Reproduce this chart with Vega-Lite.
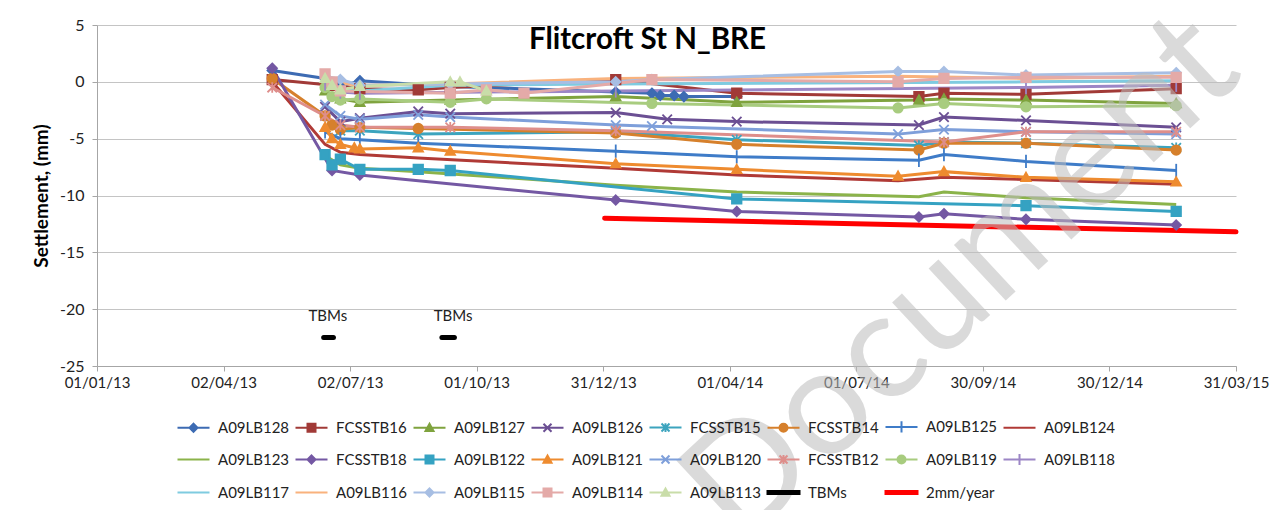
{
  "$schema": "https://vega.github.io/schema/vega-lite/v6.json",
  "width": 1139,
  "height": 341,
  "autosize": "none",
  "padding": {"left": 97, "top": 25, "right": 52, "bottom": 144},
  "background": "white",
  "title": {"text": "Flitcroft St N_BRE", "font": "Lato", "fontSize": 29.5, "fontWeight": "bold", "color": "#000000", "anchor": "middle", "offset": -38, "dx": -19, "dy": 29},
  "datasets": {
    "main": [
      {"s": "A09LB128", "d": "2013-05-07", "v": 1.0},
      {"s": "A09LB128", "d": "2013-06-14", "v": 0.3},
      {"s": "A09LB128", "d": "2013-06-19", "v": -0.2},
      {"s": "A09LB128", "d": "2013-06-25", "v": -0.4},
      {"s": "A09LB128", "d": "2013-07-09", "v": 0.1},
      {"s": "A09LB128", "d": "2013-09-12", "v": -0.4},
      {"s": "A09LB128", "d": "2014-01-09", "v": -0.9},
      {"s": "A09LB128", "d": "2014-02-04", "v": -1.0},
      {"s": "A09LB128", "d": "2014-02-10", "v": -1.2},
      {"s": "A09LB128", "d": "2014-02-20", "v": -1.2},
      {"s": "A09LB128", "d": "2014-02-27", "v": -1.3},
      {"s": "A09LB128", "d": "2014-04-06", "v": -1.3},
      {"s": "FCSSTB16", "d": "2013-05-07", "v": 0.2},
      {"s": "FCSSTB16", "d": "2013-06-19", "v": -0.3},
      {"s": "FCSSTB16", "d": "2013-07-09", "v": -0.6},
      {"s": "FCSSTB16", "d": "2013-08-20", "v": -0.7},
      {"s": "FCSSTB16", "d": "2013-09-12", "v": -0.5},
      {"s": "FCSSTB16", "d": "2014-01-09", "v": 0.2},
      {"s": "FCSSTB16", "d": "2014-04-06", "v": -1.0},
      {"s": "FCSSTB16", "d": "2014-08-15", "v": -1.3},
      {"s": "FCSSTB16", "d": "2014-09-02", "v": -1.0},
      {"s": "FCSSTB16", "d": "2014-10-31", "v": -1.1},
      {"s": "FCSSTB16", "d": "2015-02-16", "v": -0.6},
      {"s": "A09LB127", "d": "2013-06-14", "v": -0.8},
      {"s": "A09LB127", "d": "2013-06-25", "v": -1.5},
      {"s": "A09LB127", "d": "2013-07-09", "v": -1.8},
      {"s": "A09LB127", "d": "2013-09-12", "v": -1.6},
      {"s": "A09LB127", "d": "2014-01-09", "v": -1.3},
      {"s": "A09LB127", "d": "2014-04-06", "v": -1.8},
      {"s": "A09LB127", "d": "2014-08-15", "v": -1.6},
      {"s": "A09LB127", "d": "2014-09-02", "v": -1.5},
      {"s": "A09LB127", "d": "2014-10-31", "v": -1.6},
      {"s": "A09LB127", "d": "2015-02-16", "v": -1.9},
      {"s": "A09LB126", "d": "2013-06-14", "v": -2.2},
      {"s": "A09LB126", "d": "2013-06-25", "v": -3.5},
      {"s": "A09LB126", "d": "2013-07-09", "v": -3.2},
      {"s": "A09LB126", "d": "2013-08-20", "v": -2.6},
      {"s": "A09LB126", "d": "2013-09-12", "v": -2.8},
      {"s": "A09LB126", "d": "2014-01-09", "v": -2.7},
      {"s": "A09LB126", "d": "2014-02-15", "v": -3.3},
      {"s": "A09LB126", "d": "2014-04-06", "v": -3.5},
      {"s": "A09LB126", "d": "2014-08-15", "v": -3.8},
      {"s": "A09LB126", "d": "2014-09-02", "v": -3.1},
      {"s": "A09LB126", "d": "2014-10-31", "v": -3.4},
      {"s": "A09LB126", "d": "2015-02-16", "v": -4.0},
      {"s": "FCSSTB15", "d": "2013-06-14", "v": -3.0},
      {"s": "FCSSTB15", "d": "2013-06-25", "v": -4.3},
      {"s": "FCSSTB15", "d": "2013-07-09", "v": -4.3},
      {"s": "FCSSTB15", "d": "2013-08-20", "v": -4.6},
      {"s": "FCSSTB15", "d": "2014-01-09", "v": -4.4},
      {"s": "FCSSTB15", "d": "2014-04-06", "v": -5.1},
      {"s": "FCSSTB15", "d": "2014-08-15", "v": -5.6},
      {"s": "FCSSTB15", "d": "2014-09-02", "v": -5.3},
      {"s": "FCSSTB15", "d": "2014-10-31", "v": -5.4},
      {"s": "FCSSTB15", "d": "2015-02-16", "v": -5.8},
      {"s": "FCSSTB14", "d": "2013-05-07", "v": 0.3},
      {"s": "FCSSTB14", "d": "2013-06-14", "v": -3.0},
      {"s": "FCSSTB14", "d": "2013-06-19", "v": -3.8},
      {"s": "FCSSTB14", "d": "2013-06-25", "v": -4.2},
      {"s": "FCSSTB14", "d": "2013-07-09", "v": -4.0},
      {"s": "FCSSTB14", "d": "2013-08-20", "v": -4.1},
      {"s": "FCSSTB14", "d": "2014-01-09", "v": -4.5},
      {"s": "FCSSTB14", "d": "2014-04-06", "v": -5.5},
      {"s": "FCSSTB14", "d": "2014-08-15", "v": -6.0},
      {"s": "FCSSTB14", "d": "2014-09-02", "v": -5.4},
      {"s": "FCSSTB14", "d": "2014-10-31", "v": -5.4},
      {"s": "FCSSTB14", "d": "2015-02-16", "v": -6.0},
      {"s": "A09LB125", "d": "2013-06-14", "v": -4.4},
      {"s": "A09LB125", "d": "2013-06-25", "v": -5.0},
      {"s": "A09LB125", "d": "2013-07-09", "v": -5.1},
      {"s": "A09LB125", "d": "2013-08-20", "v": -5.4},
      {"s": "A09LB125", "d": "2014-01-09", "v": -6.1},
      {"s": "A09LB125", "d": "2014-04-06", "v": -6.6},
      {"s": "A09LB125", "d": "2014-08-15", "v": -6.9},
      {"s": "A09LB125", "d": "2014-09-02", "v": -6.4},
      {"s": "A09LB125", "d": "2014-10-31", "v": -7.0},
      {"s": "A09LB125", "d": "2015-02-16", "v": -7.8},
      {"s": "A09LB124", "d": "2013-05-07", "v": 0.0},
      {"s": "A09LB124", "d": "2013-06-14", "v": -5.5},
      {"s": "A09LB124", "d": "2013-06-25", "v": -6.2},
      {"s": "A09LB124", "d": "2013-07-09", "v": -6.4},
      {"s": "A09LB124", "d": "2013-08-20", "v": -6.7},
      {"s": "A09LB124", "d": "2014-01-09", "v": -7.6},
      {"s": "A09LB124", "d": "2014-04-06", "v": -8.2},
      {"s": "A09LB124", "d": "2014-07-31", "v": -8.7},
      {"s": "A09LB124", "d": "2014-09-02", "v": -8.4},
      {"s": "A09LB124", "d": "2014-10-31", "v": -8.6},
      {"s": "A09LB124", "d": "2015-02-16", "v": -9.0},
      {"s": "A09LB123", "d": "2013-06-14", "v": -6.5},
      {"s": "A09LB123", "d": "2013-06-25", "v": -7.3},
      {"s": "A09LB123", "d": "2013-07-09", "v": -7.6},
      {"s": "A09LB123", "d": "2013-08-20", "v": -7.9},
      {"s": "A09LB123", "d": "2014-01-09", "v": -9.1},
      {"s": "A09LB123", "d": "2014-04-06", "v": -9.7},
      {"s": "A09LB123", "d": "2014-08-15", "v": -10.1},
      {"s": "A09LB123", "d": "2014-09-02", "v": -9.7},
      {"s": "A09LB123", "d": "2014-10-31", "v": -10.2},
      {"s": "A09LB123", "d": "2015-02-16", "v": -10.8},
      {"s": "FCSSTB18", "d": "2013-05-07", "v": 1.2},
      {"s": "FCSSTB18", "d": "2013-06-19", "v": -7.8},
      {"s": "FCSSTB18", "d": "2013-07-09", "v": -8.2},
      {"s": "FCSSTB18", "d": "2014-01-09", "v": -10.4},
      {"s": "FCSSTB18", "d": "2014-04-06", "v": -11.4},
      {"s": "FCSSTB18", "d": "2014-08-15", "v": -11.9},
      {"s": "FCSSTB18", "d": "2014-09-02", "v": -11.6},
      {"s": "FCSSTB18", "d": "2014-10-31", "v": -12.1},
      {"s": "FCSSTB18", "d": "2015-02-16", "v": -12.6},
      {"s": "A09LB122", "d": "2013-06-14", "v": -6.4},
      {"s": "A09LB122", "d": "2013-06-19", "v": -7.3},
      {"s": "A09LB122", "d": "2013-06-25", "v": -6.8},
      {"s": "A09LB122", "d": "2013-07-09", "v": -7.7},
      {"s": "A09LB122", "d": "2013-08-20", "v": -7.7},
      {"s": "A09LB122", "d": "2013-09-12", "v": -7.8},
      {"s": "A09LB122", "d": "2014-04-06", "v": -10.3},
      {"s": "A09LB122", "d": "2014-10-31", "v": -10.9},
      {"s": "A09LB122", "d": "2015-02-16", "v": -11.4},
      {"s": "A09LB121", "d": "2013-06-14", "v": -4.0},
      {"s": "A09LB121", "d": "2013-06-19", "v": -5.0},
      {"s": "A09LB121", "d": "2013-06-25", "v": -5.5},
      {"s": "A09LB121", "d": "2013-07-05", "v": -5.8},
      {"s": "A09LB121", "d": "2013-07-09", "v": -5.9},
      {"s": "A09LB121", "d": "2013-08-20", "v": -5.8},
      {"s": "A09LB121", "d": "2013-09-12", "v": -6.1},
      {"s": "A09LB121", "d": "2014-01-09", "v": -7.2},
      {"s": "A09LB121", "d": "2014-04-06", "v": -7.7},
      {"s": "A09LB121", "d": "2014-07-31", "v": -8.3},
      {"s": "A09LB121", "d": "2014-09-02", "v": -7.9},
      {"s": "A09LB121", "d": "2014-10-31", "v": -8.4},
      {"s": "A09LB121", "d": "2015-02-16", "v": -8.8},
      {"s": "A09LB120", "d": "2013-06-14", "v": -2.0},
      {"s": "A09LB120", "d": "2013-06-25", "v": -3.0},
      {"s": "A09LB120", "d": "2013-07-09", "v": -3.3},
      {"s": "A09LB120", "d": "2013-08-20", "v": -2.9},
      {"s": "A09LB120", "d": "2013-09-12", "v": -3.1},
      {"s": "A09LB120", "d": "2014-01-09", "v": -3.8},
      {"s": "A09LB120", "d": "2014-02-04", "v": -3.9},
      {"s": "A09LB120", "d": "2014-07-31", "v": -4.6},
      {"s": "A09LB120", "d": "2014-09-02", "v": -4.2},
      {"s": "A09LB120", "d": "2014-10-31", "v": -4.4},
      {"s": "A09LB120", "d": "2015-02-16", "v": -4.6},
      {"s": "FCSSTB12", "d": "2013-05-07", "v": -0.5},
      {"s": "FCSSTB12", "d": "2013-06-14", "v": -3.0},
      {"s": "FCSSTB12", "d": "2013-06-25", "v": -3.8},
      {"s": "FCSSTB12", "d": "2013-07-09", "v": -4.0},
      {"s": "FCSSTB12", "d": "2013-09-12", "v": -4.0},
      {"s": "FCSSTB12", "d": "2014-01-09", "v": -4.3},
      {"s": "FCSSTB12", "d": "2014-09-02", "v": -5.3},
      {"s": "FCSSTB12", "d": "2014-10-31", "v": -4.4},
      {"s": "FCSSTB12", "d": "2015-02-16", "v": -4.4},
      {"s": "A09LB119", "d": "2013-06-14", "v": -0.5},
      {"s": "A09LB119", "d": "2013-06-19", "v": -1.3},
      {"s": "A09LB119", "d": "2013-06-25", "v": -1.6},
      {"s": "A09LB119", "d": "2013-07-09", "v": -1.5},
      {"s": "A09LB119", "d": "2013-09-12", "v": -1.8},
      {"s": "A09LB119", "d": "2013-10-08", "v": -1.5},
      {"s": "A09LB119", "d": "2014-02-04", "v": -1.9},
      {"s": "A09LB119", "d": "2014-07-31", "v": -2.3},
      {"s": "A09LB119", "d": "2014-09-02", "v": -1.9},
      {"s": "A09LB119", "d": "2014-10-31", "v": -2.2},
      {"s": "A09LB119", "d": "2015-02-16", "v": -2.1},
      {"s": "A09LB118", "d": "2013-06-14", "v": -0.2},
      {"s": "A09LB118", "d": "2013-06-25", "v": -0.9},
      {"s": "A09LB118", "d": "2013-07-09", "v": -1.0},
      {"s": "A09LB118", "d": "2014-01-09", "v": -0.8},
      {"s": "A09LB118", "d": "2014-10-31", "v": -0.5},
      {"s": "A09LB118", "d": "2015-02-16", "v": -0.3},
      {"s": "A09LB117", "d": "2013-06-14", "v": -0.5},
      {"s": "A09LB117", "d": "2013-07-09", "v": -0.8},
      {"s": "A09LB117", "d": "2013-09-12", "v": -0.3},
      {"s": "A09LB117", "d": "2014-01-09", "v": -0.2},
      {"s": "A09LB117", "d": "2014-10-31", "v": 0.0},
      {"s": "A09LB117", "d": "2015-02-16", "v": 0.1},
      {"s": "A09LB116", "d": "2013-06-14", "v": 0.0},
      {"s": "A09LB116", "d": "2013-07-09", "v": -0.3},
      {"s": "A09LB116", "d": "2013-09-12", "v": -0.2},
      {"s": "A09LB116", "d": "2014-01-09", "v": 0.3},
      {"s": "A09LB116", "d": "2014-07-31", "v": 0.5},
      {"s": "A09LB116", "d": "2014-10-31", "v": 0.3},
      {"s": "A09LB116", "d": "2015-02-16", "v": 0.5},
      {"s": "A09LB115", "d": "2013-06-14", "v": 0.5},
      {"s": "A09LB115", "d": "2013-06-25", "v": 0.2},
      {"s": "A09LB115", "d": "2013-07-09", "v": -0.3},
      {"s": "A09LB115", "d": "2013-09-12", "v": -0.2},
      {"s": "A09LB115", "d": "2014-01-09", "v": 0.0},
      {"s": "A09LB115", "d": "2014-02-04", "v": 0.2},
      {"s": "A09LB115", "d": "2014-07-31", "v": 0.9},
      {"s": "A09LB115", "d": "2014-09-02", "v": 0.9},
      {"s": "A09LB115", "d": "2014-10-31", "v": 0.6},
      {"s": "A09LB115", "d": "2015-02-16", "v": 0.8},
      {"s": "A09LB114", "d": "2013-06-14", "v": 0.7},
      {"s": "A09LB114", "d": "2013-06-19", "v": 0.0},
      {"s": "A09LB114", "d": "2013-06-25", "v": -0.8},
      {"s": "A09LB114", "d": "2013-09-12", "v": -1.0},
      {"s": "A09LB114", "d": "2013-10-08", "v": -0.7},
      {"s": "A09LB114", "d": "2013-11-04", "v": -1.0},
      {"s": "A09LB114", "d": "2014-02-04", "v": 0.2},
      {"s": "A09LB114", "d": "2014-07-31", "v": 0.0},
      {"s": "A09LB114", "d": "2014-09-02", "v": 0.3},
      {"s": "A09LB114", "d": "2014-10-31", "v": 0.4},
      {"s": "A09LB114", "d": "2015-02-16", "v": 0.4},
      {"s": "A09LB113", "d": "2013-06-14", "v": 0.3},
      {"s": "A09LB113", "d": "2013-06-19", "v": -0.3},
      {"s": "A09LB113", "d": "2013-06-25", "v": -0.7},
      {"s": "A09LB113", "d": "2013-07-09", "v": -0.4},
      {"s": "A09LB113", "d": "2013-09-12", "v": 0.0},
      {"s": "A09LB113", "d": "2013-09-19", "v": 0.0},
      {"s": "A09LB113", "d": "2013-10-08", "v": -0.8},
      {"s": "TBMs", "g": 1, "d": "2013-06-13", "v": -22.5},
      {"s": "TBMs", "g": 1, "d": "2013-06-20", "v": -22.5},
      {"s": "TBMs", "g": 2, "d": "2013-09-06", "v": -22.5},
      {"s": "TBMs", "g": 2, "d": "2013-09-15", "v": -22.5},
      {"s": "2mm/year", "d": "2014-01-01", "v": -12.0},
      {"s": "2mm/year", "d": "2015-03-31", "v": -13.2}
    ],
    "labels": [
      {"t": "TBMs", "d": "2013-06-16", "v": -20.6},
      {"t": "TBMs", "d": "2013-09-14", "v": -20.6}
    ],
    "mark": [
      {"t": "Document", "d": "2014-09-15", "v": -17.4}
    ]
  },
  "encoding": {
    "x": {
      "field": "d", "type": "temporal",
      "scale": {"type": "utc", "domain": [{"year": 2013, "month": 1, "date": 1, "utc": true}, {"year": 2015, "month": 3, "date": 31, "utc": true}]},
      "axis": {
        "title": null, "grid": false, "format": "%d/%m/%y",
        "values": [
          {"year": 2013, "month": 1, "date": 1, "utc": true},
          {"year": 2013, "month": 4, "date": 2, "utc": true},
          {"year": 2013, "month": 7, "date": 2, "utc": true},
          {"year": 2013, "month": 10, "date": 1, "utc": true},
          {"year": 2013, "month": 12, "date": 31, "utc": true},
          {"year": 2014, "month": 4, "date": 1, "utc": true},
          {"year": 2014, "month": 7, "date": 1, "utc": true},
          {"year": 2014, "month": 9, "date": 30, "utc": true},
          {"year": 2014, "month": 12, "date": 30, "utc": true},
          {"year": 2015, "month": 3, "date": 31, "utc": true}
        ],
        "tickSize": 5, "labelPadding": 4, "labelFontSize": 15, "labelFlush": false, "labelOverlap": false
      }
    },
    "y": {
      "field": "v", "type": "quantitative",
      "scale": {"domain": [-25, 5], "nice": false, "zero": false},
      "axis": {
        "title": "Settlement, (mm)", "values": [5, 0, -5, -10, -15, -20, -25],
        "labelExpr": "replace(datum.label, '\u2212', '-')",
        "grid": true, "tickSize": 5, "labelPadding": 8, "labelFontSize": 16,
        "titleFontSize": 19, "titleFontWeight": "bold", "titlePadding": 8, "titleColor": "#000000"
      }
    }
  },
  "layer": [
    {
      "data": {"name": "main"},
      "transform": [{"filter": {"not": {"field": "s", "oneOf": ["TBMs", "2mm/year"]}}}],
      "mark": {"type": "line", "strokeWidth": 3},
      "encoding": {
        "stroke": {
          "field": "s", "type": "nominal",
          "scale": {
            "domain": ["A09LB128", "FCSSTB16", "A09LB127", "A09LB126", "FCSSTB15", "FCSSTB14", "A09LB125", "A09LB124", "A09LB123", "FCSSTB18", "A09LB122", "A09LB121", "A09LB120", "FCSSTB12", "A09LB119", "A09LB118", "A09LB117", "A09LB116", "A09LB115", "A09LB114", "A09LB113", "TBMs", "2mm/year"],
            "range": ["#3D6BB3", "#A13A37", "#7FA33E", "#6B4F93", "#3CA4BE", "#D6802C", "#3F7CC8", "#B03A36", "#8BB34A", "#7458A3", "#35A2C2", "#EE8B2F", "#7E9FDA", "#DE8E8B", "#A8CC7F", "#9C86C6", "#7FCBE0", "#F9B27D", "#A7BEE3", "#E4AAA8", "#C9DDA9", "#000000", "#FF0000"]
          },
          "legend": {
            "title": null, "orient": "none", "legendX": 81, "legendY": 394,
            "direction": "horizontal", "columns": 8, "gridAlign": "all",
            "columnPadding": 1, "rowPadding": 12, "symbolSize": 64, "symbolStrokeWidth": 2, "symbolOpacity": 1,
            "symbolOffset": 8, "labelOffset": 17, "labelFontSize": 15, "labelFont": "Lato",
            "labelColor": "#222222", "labelLimit": 200, "padding": 0
          }
        }
      }
    },
    {
      "data": {"name": "main"},
      "transform": [{"filter": {"field": "s", "equal": "TBMs"}}],
      "mark": {"type": "line", "strokeWidth": 5, "strokeCap": "round"},
      "encoding": {
        "stroke": {"field": "s", "type": "nominal", "scale": {"domain": ["A09LB128", "FCSSTB16", "A09LB127", "A09LB126", "FCSSTB15", "FCSSTB14", "A09LB125", "A09LB124", "A09LB123", "FCSSTB18", "A09LB122", "A09LB121", "A09LB120", "FCSSTB12", "A09LB119", "A09LB118", "A09LB117", "A09LB116", "A09LB115", "A09LB114", "A09LB113", "TBMs", "2mm/year"]}},
        "detail": {"field": "g", "type": "nominal"}
      }
    },
    {
      "data": {"name": "main"},
      "transform": [{"filter": {"field": "s", "equal": "2mm/year"}}],
      "mark": {"type": "line", "strokeWidth": 5, "strokeCap": "round"},
      "encoding": {
        "stroke": {"field": "s", "type": "nominal", "scale": {"domain": ["A09LB128", "FCSSTB16", "A09LB127", "A09LB126", "FCSSTB15", "FCSSTB14", "A09LB125", "A09LB124", "A09LB123", "FCSSTB18", "A09LB122", "A09LB121", "A09LB120", "FCSSTB12", "A09LB119", "A09LB118", "A09LB117", "A09LB116", "A09LB115", "A09LB114", "A09LB113", "TBMs", "2mm/year"]}}
      }
    },
    {
      "data": {"name": "main"},
      "transform": [{"filter": "false"}],
      "mark": {"type": "point", "filled": true, "size": 64, "opacity": 1, "strokeWidth": 2},
      "encoding": {
        "fill": {
          "field": "s", "type": "nominal",
          "scale": {
            "domain": ["A09LB128", "FCSSTB16", "A09LB127", "A09LB126", "FCSSTB15", "FCSSTB14", "A09LB125", "A09LB124", "A09LB123", "FCSSTB18", "A09LB122", "A09LB121", "A09LB120", "FCSSTB12", "A09LB119", "A09LB118", "A09LB117", "A09LB116", "A09LB115", "A09LB114", "A09LB113", "TBMs", "2mm/year"],
            "range": ["#3D6BB3", "#A13A37", "#7FA33E", "#6B4F93", "#3CA4BE", "#D6802C", "#3F7CC8", "#B03A36", "#8BB34A", "#7458A3", "#35A2C2", "#EE8B2F", "#7E9FDA", "#DE8E8B", "#A8CC7F", "#9C86C6", "#7FCBE0", "#F9B27D", "#A7BEE3", "#E4AAA8", "#C9DDA9", "#000000", "#FF0000"]
          }
        },
        "stroke": {"field": "s", "type": "nominal", "scale": {"domain": ["A09LB128", "FCSSTB16", "A09LB127", "A09LB126", "FCSSTB15", "FCSSTB14", "A09LB125", "A09LB124", "A09LB123", "FCSSTB18", "A09LB122", "A09LB121", "A09LB120", "FCSSTB12", "A09LB119", "A09LB118", "A09LB117", "A09LB116", "A09LB115", "A09LB114", "A09LB113", "TBMs", "2mm/year"]}},
        "shape": {
          "field": "s", "type": "nominal",
          "scale": {
            "domain": ["A09LB128", "FCSSTB16", "A09LB127", "A09LB126", "FCSSTB15", "FCSSTB14", "A09LB125", "A09LB124", "A09LB123", "FCSSTB18", "A09LB122", "A09LB121", "A09LB120", "FCSSTB12", "A09LB119", "A09LB118", "A09LB117", "A09LB116", "A09LB115", "A09LB114", "A09LB113", "TBMs", "2mm/year"],
            "range": [
              "M-4,0H4M0,-1L1,0L0,1L-1,0Z",
              "M-4,0H4M-1,-1H1V1H-1Z",
              "M-4,0H4M0,-1L1,0.8H-1Z",
              "M-4,0H4M-1,-1L1,1M-1,1L1,-1",
              "M-4,0H4M-1,-1L1,1M-1,1L1,-1M0,-1.1V1.1",
              "M-4,0H4M-1,0A1,1,0,1,0,1,0A1,1,0,1,0,-1,0Z",
              "M-4,0H4M0,-1.4V1.4",
              "M-4,0H4",
              "M-4,0H4",
              "M-4,0H4M0,-1L1,0L0,1L-1,0Z",
              "M-4,0H4M-1,-1H1V1H-1Z",
              "M-4,0H4M0,-1L1,0.8H-1Z",
              "M-4,0H4M-1,-1L1,1M-1,1L1,-1",
              "M-4,0H4M-1,-1L1,1M-1,1L1,-1M0,-1.1V1.1",
              "M-4,0H4M-1,0A1,1,0,1,0,1,0A1,1,0,1,0,-1,0Z",
              "M-4,0H4M0,-1.4V1.4",
              "M-4,0H4",
              "M-4,0H4",
              "M-4,0H4M0,-1L1,0L0,1L-1,0Z",
              "M-4,0H4M-1,-1H1V1H-1Z",
              "M-4,0H4M0,-1L1,0.8H-1Z",
              "M-4,-0.4H4V0.4H-4Z",
              "M-4,-0.4H4V0.4H-4Z"
            ]
          },
          "legend": {
            "title": null, "orient": "none", "legendX": 81, "legendY": 394,
            "direction": "horizontal", "columns": 8, "gridAlign": "all",
            "columnPadding": 1, "rowPadding": 12, "symbolSize": 64, "symbolStrokeWidth": 2, "symbolOpacity": 1,
            "symbolOffset": 8, "labelOffset": 17, "labelFontSize": 15, "labelFont": "Lato",
            "labelColor": "#222222", "labelLimit": 200, "padding": 0
          }
        }
      }
    },
    {
      "data": {"name": "main"},
      "transform": [{"filter": {"not": {"field": "s", "oneOf": ["A09LB124", "A09LB123", "A09LB117", "A09LB116", "TBMs", "2mm/year"]}}}],
      "mark": {
        "type": "point", "filled": true, "size": 90, "opacity": 1, "strokeWidth": 1.8,
        "shape": {"expr": "replace(scale('shape', datum.s), 'M-4,0H4', '')"},
        "fill": {"expr": "scale('fill', datum.s)"},
        "stroke": {"expr": "scale('stroke', datum.s)"}
      }
    },
    {
      "data": {"name": "labels"},
      "mark": {"type": "text", "font": "Lato", "fontSize": 15, "color": "#222222", "baseline": "middle", "align": "center"},
      "encoding": {"text": {"field": "t"}}
    },
    {
      "data": {"name": "mark"},
      "mark": {"type": "text", "font": "Lato", "fontSize": 150, "color": "#BDBDBD", "opacity": 0.55, "angle": 317, "baseline": "middle", "align": "center"},
      "encoding": {"text": {"field": "t"}}
    }
  ],
  "config": {
    "font": "Lato",
    "view": {"stroke": null},
    "axis": {
      "labelFont": "Lato", "labelColor": "#222222", "titleFont": "Lato",
      "domainColor": "#A6A6A6", "tickColor": "#A6A6A6", "gridColor": "#C4C4C4", "domainWidth": 1, "gridWidth": 1
    }
  }
}
